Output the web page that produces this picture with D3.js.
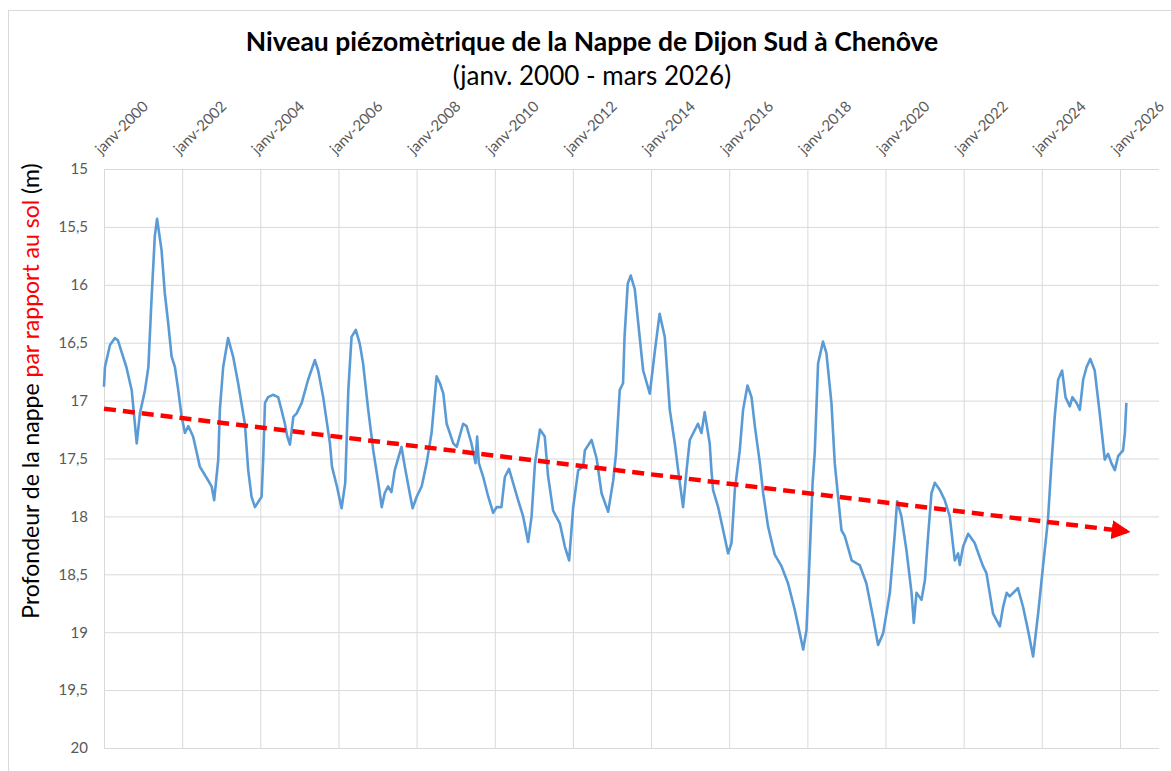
<!DOCTYPE html>
<html lang="fr">
<head>
<meta charset="UTF-8">
<title>Niveau piézomètrique - Nappe de Dijon Sud</title>
<script src="https://cdn.jsdelivr.net/npm/d3@7"></script>
<style>
  body { margin: 0; background: #fff; }
  svg text { font-family: Lato, "Open Sans", sans-serif; }
</style>
</head>
<body>
<div id="chart"></div>
<script>
// relevés (date, profondeur en m)
const dates = [
  "2000-01-01","2000-01-10","2000-02-26","2000-04-12","2000-05-10","2000-07-28","2000-09-16","2000-11-02","2000-12-02",
  "2001-01-18","2001-02-19","2001-03-20","2001-04-20","2001-05-11","2001-06-22","2001-07-22","2001-08-23","2001-09-24","2001-10-25","2001-11-25","2001-12-27",
  "2002-01-27","2002-02-27","2002-04-13","2002-06-15","2002-09-01","2002-10-03","2002-10-27","2002-12-04","2002-12-19",
  "2003-01-19","2003-03-06","2003-04-22","2003-06-08","2003-08-10","2003-09-10","2003-10-11","2003-11-12",
  "2004-01-13","2004-01-28","2004-02-14","2004-03-14","2004-04-28","2004-06-16","2004-07-17","2004-08-18","2004-09-09","2004-10-04","2004-11-05","2004-12-06",
  "2005-01-22","2005-03-23","2005-05-25","2005-06-25","2005-08-11","2005-10-13","2005-11-01","2005-12-17",
  "2006-01-30","2006-03-05","2006-04-03","2006-05-03","2006-06-12","2006-07-19","2006-08-19","2006-10-06","2006-11-22",
  "2007-01-08","2007-02-09","2007-03-09","2007-04-10","2007-05-11","2007-06-11","2007-08-13","2007-09-13","2007-10-29","2007-11-25",
  "2008-01-02","2008-02-18","2008-04-04","2008-05-20","2008-07-06","2008-08-06","2008-09-07","2008-10-08","2008-12-09",
  "2009-01-10","2009-03-11","2009-04-12","2009-05-28","2009-07-05","2009-07-20","2009-08-05","2009-09-15","2009-11-01","2009-12-17",
  "2010-01-18","2010-03-04","2010-04-05","2010-05-14","2010-06-21","2010-08-07","2010-09-23","2010-11-09","2010-12-11",
  "2011-01-11","2011-02-27","2011-04-13","2011-05-14","2011-06-30","2011-09-01","2011-10-18","2011-11-27",
  "2012-01-04","2012-02-20","2012-04-06","2012-04-22","2012-06-24","2012-08-10","2012-09-25","2012-11-26",
  "2013-01-12","2013-02-07","2013-03-14","2013-04-14","2013-04-28","2013-05-28","2013-06-25","2013-08-02","2013-09-03","2013-10-19","2013-12-20",
  "2014-02-07","2014-03-22","2014-05-09","2014-06-25","2014-08-11","2014-09-11","2014-10-27","2014-11-29","2014-12-29",
  "2015-03-15","2015-04-17","2015-05-17","2015-07-03","2015-07-19","2015-08-03","2015-09-20","2015-11-06","2015-12-22",
  "2016-01-23","2016-02-23","2016-04-09","2016-05-10","2016-06-20","2016-07-28","2016-08-28","2016-10-14","2016-11-14","2016-12-30",
  "2017-03-02","2017-05-04","2017-07-05","2017-09-06","2017-10-22","2017-11-23","2017-12-24",
  "2018-01-25","2018-02-19","2018-03-11","2018-04-11","2018-05-27","2018-06-28","2018-08-14","2018-09-14","2018-10-15","2018-11-16","2018-12-17",
  "2019-02-19","2019-05-05","2019-07-07","2019-09-07","2019-10-24","2019-12-10",
  "2020-02-11","2020-03-28","2020-04-19","2020-05-29","2020-07-15","2020-09-01","2020-09-22","2020-10-17","2020-12-03",
  "2021-01-04","2021-02-04","2021-03-06","2021-04-06","2021-05-22","2021-07-08","2021-08-24","2021-10-10","2021-11-10","2021-11-26","2021-12-27",
  "2022-02-12","2022-04-14","2022-05-30","2022-07-01","2022-08-02","2022-10-03","2022-12-05",
  "2023-01-05","2023-02-07","2023-03-07","2023-05-23","2023-07-10","2023-08-25","2023-10-12","2023-11-28",
  "2024-01-13","2024-02-28","2024-04-01","2024-05-01","2024-06-02","2024-07-09","2024-08-10","2024-09-19","2024-10-14","2024-11-21","2024-12-22",
  "2025-01-22","2025-02-23","2025-03-30","2025-05-10","2025-06-26","2025-08-12","2025-09-12","2025-10-13","2025-11-14","2025-12-15",
  "2026-01-30","2026-02-16","2026-03-02"
];
const depths = [
  16.88,16.71,16.52,16.46,16.48,16.71,16.91,17.37,17.11,
  16.91,16.71,16.13,15.58,15.43,15.70,16.07,16.33,16.62,16.71,16.91,17.14,
  17.28,17.22,17.31,17.57,17.69,17.74,17.86,17.51,17.08,
  16.71,16.46,16.62,16.85,17.20,17.60,17.83,17.92,
  17.83,17.51,17.02,16.97,16.95,16.97,17.08,17.20,17.31,17.38,17.14,17.11,
  17.02,16.82,16.65,16.74,16.97,17.37,17.57,17.74,
  17.93,17.71,16.91,16.45,16.39,16.51,16.68,17.08,17.43,
  17.71,17.92,17.80,17.74,17.79,17.60,17.40,17.57,17.80,17.93,
  17.83,17.74,17.54,17.28,16.79,16.85,16.94,17.20,17.37,
  17.40,17.20,17.22,17.37,17.54,17.31,17.54,17.66,17.83,17.97,
  17.92,17.92,17.66,17.59,17.71,17.86,18.00,18.22,18.00,
  17.55,17.25,17.31,17.65,17.95,18.06,18.26,18.38,
  17.92,17.60,17.57,17.43,17.34,17.50,17.80,17.96,
  17.69,17.46,16.91,16.85,16.45,15.99,15.92,16.04,16.33,16.74,16.94,
  16.56,16.25,16.45,17.08,17.37,17.60,17.92,17.60,17.34,
  17.20,17.28,17.10,17.37,17.60,17.77,17.92,18.12,18.32,
  18.23,17.77,17.43,17.08,16.87,16.97,17.22,17.54,17.80,18.09,
  18.33,18.43,18.58,18.81,19.01,19.15,18.98,
  18.29,17.71,17.45,16.68,16.49,16.59,17.02,17.54,17.83,18.12,18.17,
  18.38,18.42,18.58,18.87,19.11,19.01,
  18.66,18.15,17.87,18.00,18.29,18.66,18.92,18.66,18.72,
  18.55,18.15,17.80,17.71,17.77,17.86,18.00,18.38,18.32,18.42,18.26,
  18.15,18.23,18.35,18.43,18.49,18.84,18.95,
  18.78,18.66,18.69,18.62,18.78,18.98,19.21,18.84,
  18.43,18.03,17.54,17.14,16.82,16.74,16.97,17.05,16.97,17.02,17.08,
  16.82,16.71,16.64,16.74,17.11,17.51,17.46,17.54,17.60,17.48,
  17.43,17.28,17.02
];

// tendance (flèche rouge)
const trendDates = ["2000-01-01", "2026-03-06"];
const trendDepths = [17.07, 18.13];

const yTicks = [15, 15.5, 16, 16.5, 17, 17.5, 18, 18.5, 19, 19.5, 20];
const xTickYears = [2000, 2002, 2004, 2006, 2008, 2010, 2012, 2014, 2016, 2018, 2020, 2022, 2024, 2026];

const W = 1171, H = 771;
const margin = { top: 169, right: 12, bottom: 23, left: 104 };
const width = W - margin.left - margin.right;
const height = H - margin.top - margin.bottom;

const parse = d3.timeParse("%Y-%m-%d");
const series = dates.map((d, i) => ({ date: parse(d), depth: depths[i] }));
const trend = trendDates.map((d, i) => ({ date: parse(d), depth: trendDepths[i] }));

const svg = d3.select("#chart").append("svg")
  .attr("width", W)
  .attr("height", H);

// cadre du graphique
svg.append("rect")
  .attr("x", 8.5).attr("y", 10.5)
  .attr("width", W + 10).attr("height", H + 10)
  .attr("fill", "none").attr("stroke", "#d9d9d9");

const defs = svg.append("defs");
defs.append("marker")
  .attr("id", "arrow")
  .attr("viewBox", "0 0 10 10")
  .attr("refX", 8).attr("refY", 5)
  .attr("markerWidth", 4.2).attr("markerHeight", 4.2)
  .attr("markerUnits", "strokeWidth")
  .attr("orient", "auto")
  .append("path")
  .attr("d", "M0,0 L10,5 L0,10 z")
  .attr("fill", "#ff0000");

const g = svg.append("g")
  .attr("transform", "translate(" + margin.left + "," + margin.top + ")");

const x = d3.scaleTime()
  .domain([new Date(2000, 0, 1), new Date(2027, 0, 1)])
  .range([0, width]);

// axe inversé : la profondeur augmente vers le bas
const y = d3.scaleLinear()
  .domain([15, 20])
  .range([0, height]);

// grille horizontale + graduations
const yAxis = g.append("g")
  .call(d3.axisLeft(y).tickValues(yTicks).tickSize(-width)
    .tickFormat(d => String(d).replace(".", ",")));
yAxis.select(".domain").remove();
yAxis.selectAll("line").attr("stroke", "#d9d9d9");
yAxis.selectAll("text")
  .attr("x", -16)
  .attr("fill", "#595959")
  .style("font-size", "15px");

// grille verticale + dates en haut
const xAxis = g.append("g")
  .call(d3.axisTop(x).tickValues(xTickYears.map(yr => new Date(yr, 0, 1)))
    .tickSize(-height)
    .tickFormat(d => "janv-" + d.getFullYear()));
xAxis.select(".domain").remove();
xAxis.selectAll("line").attr("stroke", "#d9d9d9");
xAxis.selectAll("text")
  .attr("x", 0).attr("y", 0).attr("dy", null)
  .attr("text-anchor", "start")
  .attr("transform", "translate(-3,-14) rotate(-45)")
  .attr("fill", "#595959")
  .style("font-size", "15px");

// courbe piézométrique
const line = d3.line()
  .x(d => x(d.date))
  .y(d => y(d.depth));

g.append("path")
  .datum(series)
  .attr("fill", "none")
  .attr("stroke", "#5b9bd5")
  .attr("stroke-width", 2.6)
  .attr("stroke-linejoin", "round")
  .attr("d", line);

// tendance
g.append("path")
  .datum(trend)
  .attr("fill", "none")
  .attr("stroke", "#ff0000")
  .attr("stroke-width", 4.5)
  .attr("stroke-dasharray", "12,7")
  .attr("marker-end", "url(#arrow)")
  .attr("d", line);

// titres
svg.append("text")
  .attr("x", 592).attr("y", 51)
  .attr("text-anchor", "middle")
  .style("font-size", "26.5px")
  .style("font-weight", "bold")
  .attr("fill", "#000")
  .text("Niveau piézomètrique de la Nappe de Dijon Sud à Chenôve");

svg.append("text")
  .attr("x", 592).attr("y", 85)
  .attr("text-anchor", "middle")
  .style("font-size", "26px")
  .attr("fill", "#000")
  .text("(janv. 2000 - mars 2026)");

const yTitle = svg.append("text")
  .attr("transform", "translate(39,391) rotate(-90)")
  .attr("text-anchor", "middle")
  .style("font-size", "23px")
  .attr("fill", "#000");
yTitle.append("tspan").text("Profondeur de la nappe ");
yTitle.append("tspan").attr("fill", "#ff0000").text("par rapport au sol");
yTitle.append("tspan").text(" (m)");
</script>
</body>
</html>
